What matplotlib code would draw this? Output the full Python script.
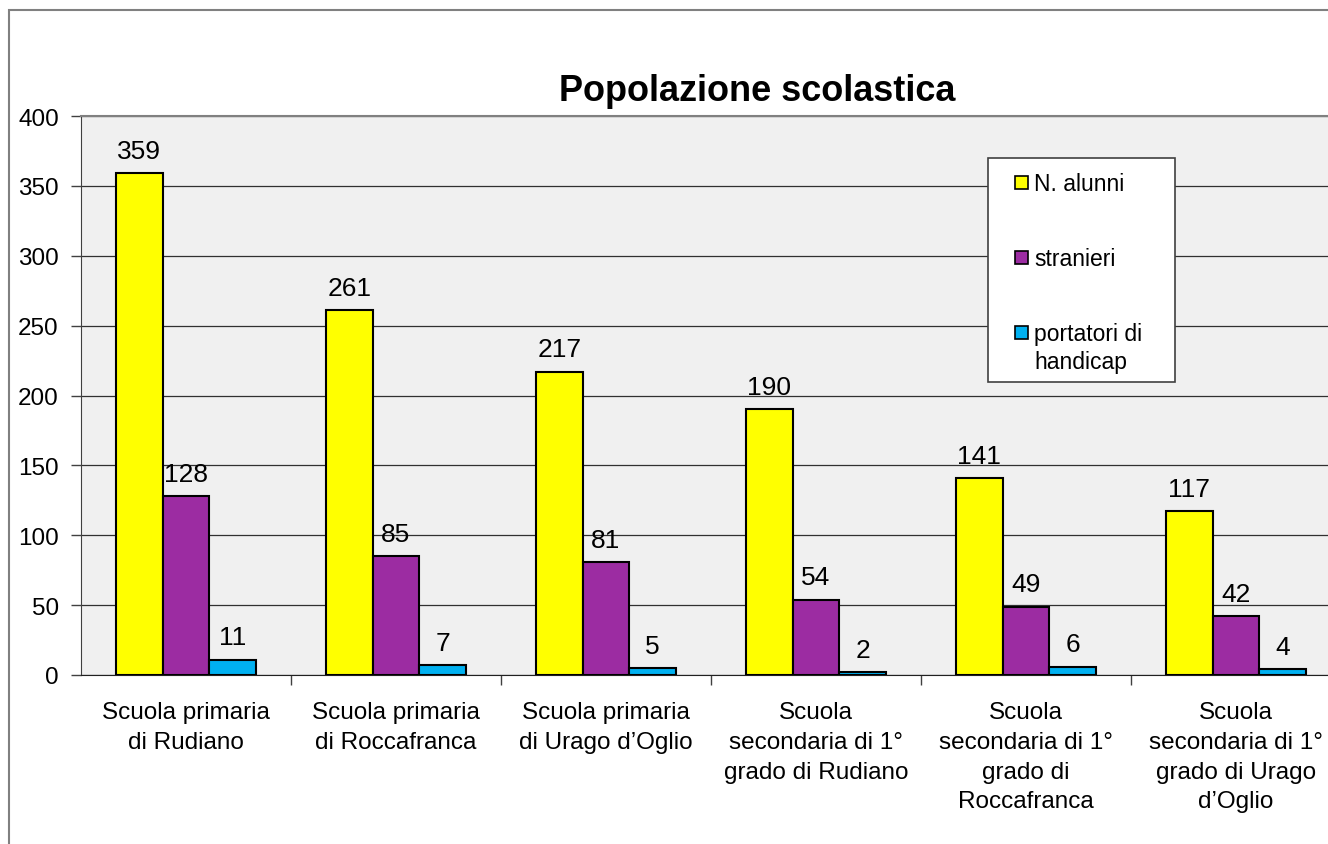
import matplotlib.pyplot as plt
import numpy as np
from matplotlib.patches import Rectangle

plt.rcParams['font.family'] = ['Liberation Sans', 'DejaVu Sans']

# data
scuole = ["Scuola primaria\ndi Rudiano",
          "Scuola primaria\ndi Roccafranca",
          "Scuola primaria\ndi Urago d\u2019Oglio",
          "Scuola\nsecondaria di 1°\ngrado di Rudiano",
          "Scuola\nsecondaria di 1°\ngrado di\nRoccafranca",
          "Scuola\nsecondaria di 1°\ngrado di Urago\nd\u2019Oglio"]
alunni = [359, 261, 217, 190, 141, 117]
stranieri = [128, 85, 81, 54, 49, 42]
handicap = [11, 7, 5, 2, 6, 4]
serie = ["N. alunni", "stranieri", "portatori di\nhandicap"]
colori = ['#FFFF00', '#9C2CA2', '#00B0F0']
yticks = np.arange(0, 401, 50)

W, H = 1328, 845
fig = plt.figure(figsize=(W / 100, H / 100), dpi=100)

# outer chart frame (right/bottom edges are cut off in the original)
fig.patches.append(Rectangle((9 / W, -0.1), 1.2, 1 - 11 / H + 0.1,
                             transform=fig.transFigure, fill=False,
                             edgecolor='#808080', lw=1.5))

ax = fig.add_axes([81 / W, (H - 676) / H, 1260 / W, 559 / H])
ax.set_facecolor('#F0F0F0')

x = np.arange(len(scuole))
bw = 1 / 4.5
for i, (vals, col) in enumerate(zip([alunni, stranieri, handicap], colori)):
    bars = ax.bar(x + (i - 1) * bw, vals, bw, color=col, edgecolor='black',
                  linewidth=1.5, zorder=3)
    for b, v in zip(bars, vals):
        ax.annotate(str(v), (b.get_x() + b.get_width() / 2, v),
                    xytext=(0, 11), textcoords='offset points',
                    ha='center', va='baseline', fontsize=19)

ax.set_xlim(-0.5, len(scuole) - 0.5)
ax.set_ylim(0, 400)
ax.set_yticks(yticks)
ax.yaxis.grid(True, color='#303030', lw=0.9, zorder=0)
ax.set_axisbelow(True)
ax.tick_params(axis='y', length=7, width=1, color='#404040', labelsize=17.5, pad=9)

ax.set_xticks(x)
ax.set_xticklabels(scuole, fontsize=17.5, linespacing=1.45, ha='center')
ax.set_xticks(np.arange(0.5, len(scuole) - 0.5), minor=True)
ax.tick_params(axis='x', which='major', length=0, pad=19)
ax.tick_params(axis='x', which='minor', length=7, width=1, color='#404040')

ax.spines['top'].set_color('#808080')
ax.spines['top'].set_linewidth(1.5)
ax.spines['left'].set_color('#404040')
ax.spines['bottom'].set_color('#202020')
ax.spines['right'].set_visible(False)

fig.text(757 / W, 1 - 101 / H, "Popolazione scolastica", fontsize=26,
         fontweight='bold', ha='center', va='baseline')

# legend box drawn by hand to match the Excel layout
fig.patches.append(Rectangle((988 / W, 1 - 383 / H), 187 / W, 224 / H,
                             transform=fig.transFigure, facecolor='white',
                             edgecolor='#404040', lw=1.2, zorder=5))
for yy, lab, col in zip([183, 258, 333], serie, colori):
    fig.patches.append(Rectangle((1015 / W, 1 - (yy + 7) / H), 13 / W, 13 / H,
                                 transform=fig.transFigure, facecolor=col,
                                 edgecolor='black', lw=1.2, zorder=6))
    fig.text(1034 / W, 1 - (yy - 10) / H, lab, fontsize=16.5, ha='left',
             va='top', linespacing=1.25, zorder=7)

fig.savefig('out.png', dpi=100)
